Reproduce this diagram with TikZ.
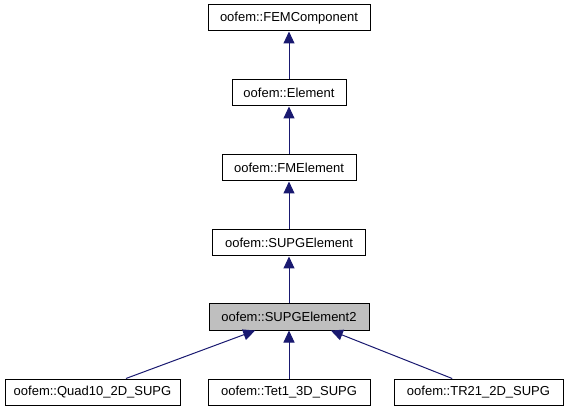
\documentclass[tikz,border=0pt]{standalone}
\usepackage{fontspec}
\setmainfont{Liberation Sans}
\usetikzlibrary{arrows.meta}
\usetikzlibrary{calc,positioning}

\definecolor{edgeblue}{RGB}{25,25,112}

\begin{document}
\begin{tikzpicture}[
    x=1pt, y=-1pt,
    cls/.style={draw=black, fill=white, line width=1pt, minimum height=26pt,
        inner sep=0pt, font=\fontsize{13}{15}\selectfont},
    current/.style={cls, fill=black!25},
    inherit/.style={draw=edgeblue, line width=1pt,
        {Triangle[width=11pt,length=12pt,fill=edgeblue]}-},
 ]
    \useasboundingbox (0,0) rectangle (567,411);

    \node[cls, minimum width=162pt] at (289,18)  (FEM)  {oofem::FEMComponent};
    \node[cls, minimum width=114pt] at (289,93)  (Elem) {oofem::Element};
    \node[cls, minimum width=134pt] at (289,168) (FME)  {oofem::FMElement};
    \node[cls, minimum width=153pt] at (289,243) (SUPG) {oofem::SUPGElement};
    \node[current, minimum width=160pt] at (289,317) (SUPGtwo) {oofem::SUPGElement2};

    \node[cls, minimum width=175pt] at (92.5,392) (Quad) {oofem::Quad10\_2D\_SUPG};
    \node[cls, minimum width=162pt] at (289,392)  (Tet)  {oofem::Tet1\_3D\_SUPG};
    \node[cls, minimum width=169pt] at (478.5,392) (TR)  {oofem::TR21\_2D\_SUPG};

    \draw[inherit] (FEM) -- (Elem);
    \draw[inherit] (Elem) -- (FME);
    \draw[inherit] (FME) -- (SUPG);
    \draw[inherit] (SUPG) -- (SUPGtwo);

    \draw[inherit] ($(SUPGtwo.south west)!0.29!(SUPGtwo.south east)$)
        -- ($(Quad.north west)!0.69!(Quad.north east)$);
    \draw[inherit] (SUPGtwo) -- (Tet);
    \draw[inherit] ($(SUPGtwo.south west)!0.76!(SUPGtwo.south east)$)
        -- ($(TR.north west)!0.345!(TR.north east)$);
\end{tikzpicture}
\end{document}
